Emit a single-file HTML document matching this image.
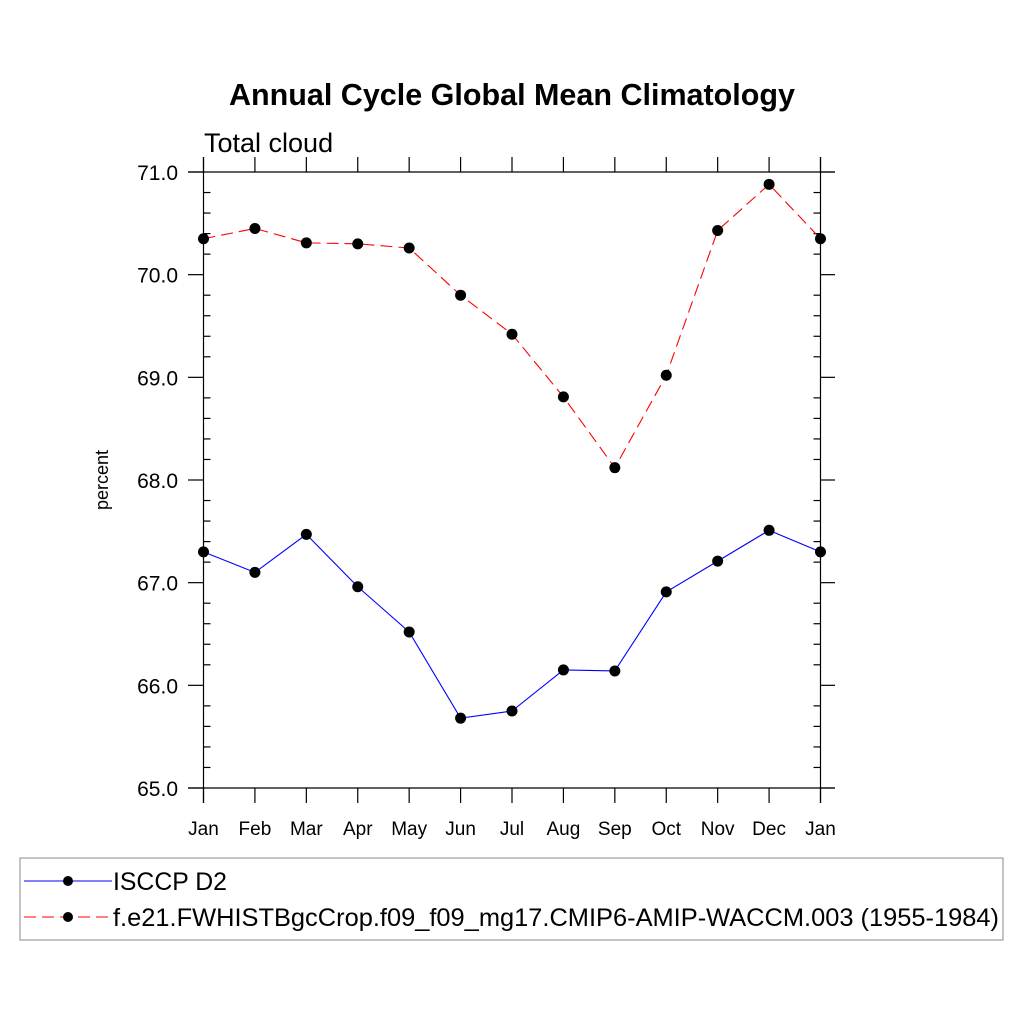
<!DOCTYPE html>
<html><head><meta charset="utf-8"><style>body{margin:0;background:#fff}svg{display:block}</style></head>
<body>
<svg id="chart" width="1024" height="1024" xmlns="http://www.w3.org/2000/svg" font-family="Liberation Sans, sans-serif">
<text x="512" y="105" text-anchor="middle" font-size="30.5" font-weight="bold">Annual Cycle Global Mean Climatology</text>
<text x="204" y="152" font-size="27">Total cloud</text>
<text transform="translate(108,480) rotate(-90)" text-anchor="middle" font-size="18">percent</text>
<g id="axes"></g>
<g id="series"></g>
<rect x="20" y="858" width="983" height="82" fill="none" stroke="#888" stroke-width="1"/>
<g>
<line x1="24" y1="881" x2="112" y2="881" stroke="#00f" stroke-width="1"/>
<circle cx="68" cy="881" r="5" fill="#000"/>
<text x="113" y="890" font-size="24.8">ISCCP D2</text></g>
<g>
<line x1="24" y1="917" x2="112" y2="917" stroke="#f00" stroke-width="1" stroke-dasharray="12,6"/>
<circle cx="68" cy="917" r="5" fill="#000"/>
<text x="113" y="926" font-size="24.8" textLength="886" lengthAdjust="spacingAndGlyphs">f.e21.FWHISTBgcCrop.f09_f09_mg17.CMIP6-AMIP-WACCM.003 (1955-1984)</text></g>
</svg>
<script>
const months=["Jan","Feb","Mar","Apr","May","Jun","Jul","Aug","Sep","Oct","Nov","Dec","Jan"];
const isccp=[67.30,67.10,67.47,66.96,66.52,65.68,65.75,66.15,66.14,66.91,67.21,67.51,67.30];
const model=[70.35,70.45,70.31,70.30,70.26,69.80,69.42,68.81,68.12,69.02,70.43,70.88,70.35];
const yTicks=["65.0","66.0","67.0","68.0","69.0","70.0","71.0"];
const X0=203.5,X1=820.5,Y0=788,Y1=172,YMIN=65,YMAX=71;
const xs=i=>X0+(X1-X0)*i/(months.length-1);
const ys=v=>Y0-(v-YMIN)/(YMAX-YMIN)*(Y0-Y1);
const NS="http://www.w3.org/2000/svg";
function mk(t,a,p){const e=document.createElementNS(NS,t);for(const k in a)e.setAttribute(k,a[k]);p.appendChild(e);return e;}
const ax=document.getElementById('axes');
const L=(x1,y1,x2,y2)=>mk('line',{x1,y1,x2,y2,stroke:'#000','stroke-width':1.2},ax);
L(X0,157,X0,803);L(X1,157,X1,803);L(188,Y1,835,Y1);L(188,Y0,835,Y0);
months.forEach((m,i)=>{const x=xs(i);L(x,Y0,x,803);L(x,Y1,x,157);
const t=mk('text',{x:x,y:835,'text-anchor':'middle','font-size':19},ax);t.textContent=m;

});
for(let v=YMIN;v<=YMAX+1e-6;v+=0.2){const y=ys(v);const maj=Math.abs(v-Math.round(v))<1e-6;
if(maj){L(188,y,X0,y);L(X1,y,835,y);}else{L(X0,y,X0+7,y);L(X1-7,y,X1,y);}}
yTicks.forEach(s=>{const t=mk('text',{x:178,y:ys(+s)+8,'text-anchor':'end','font-size':21},ax);t.textContent=s;

});
const sg=document.getElementById('series');
function draw(vals,color,dash,name){
const pts=vals.map((v,i)=>xs(i)+','+ys(v)).join(' ');
const pl=mk('polyline',{points:pts,fill:'none',stroke:color,'stroke-width':1.1},sg);
if(dash)pl.setAttribute('stroke-dasharray',dash);


vals.forEach((v,i)=>{const c=mk('circle',{cx:xs(i),cy:ys(v),r:5.5,fill:'#000'},sg);

});}
draw(isccp,'#00f',null,'isccp');
draw(model,'#f00','12,6','model');
</script>
</body></html>
